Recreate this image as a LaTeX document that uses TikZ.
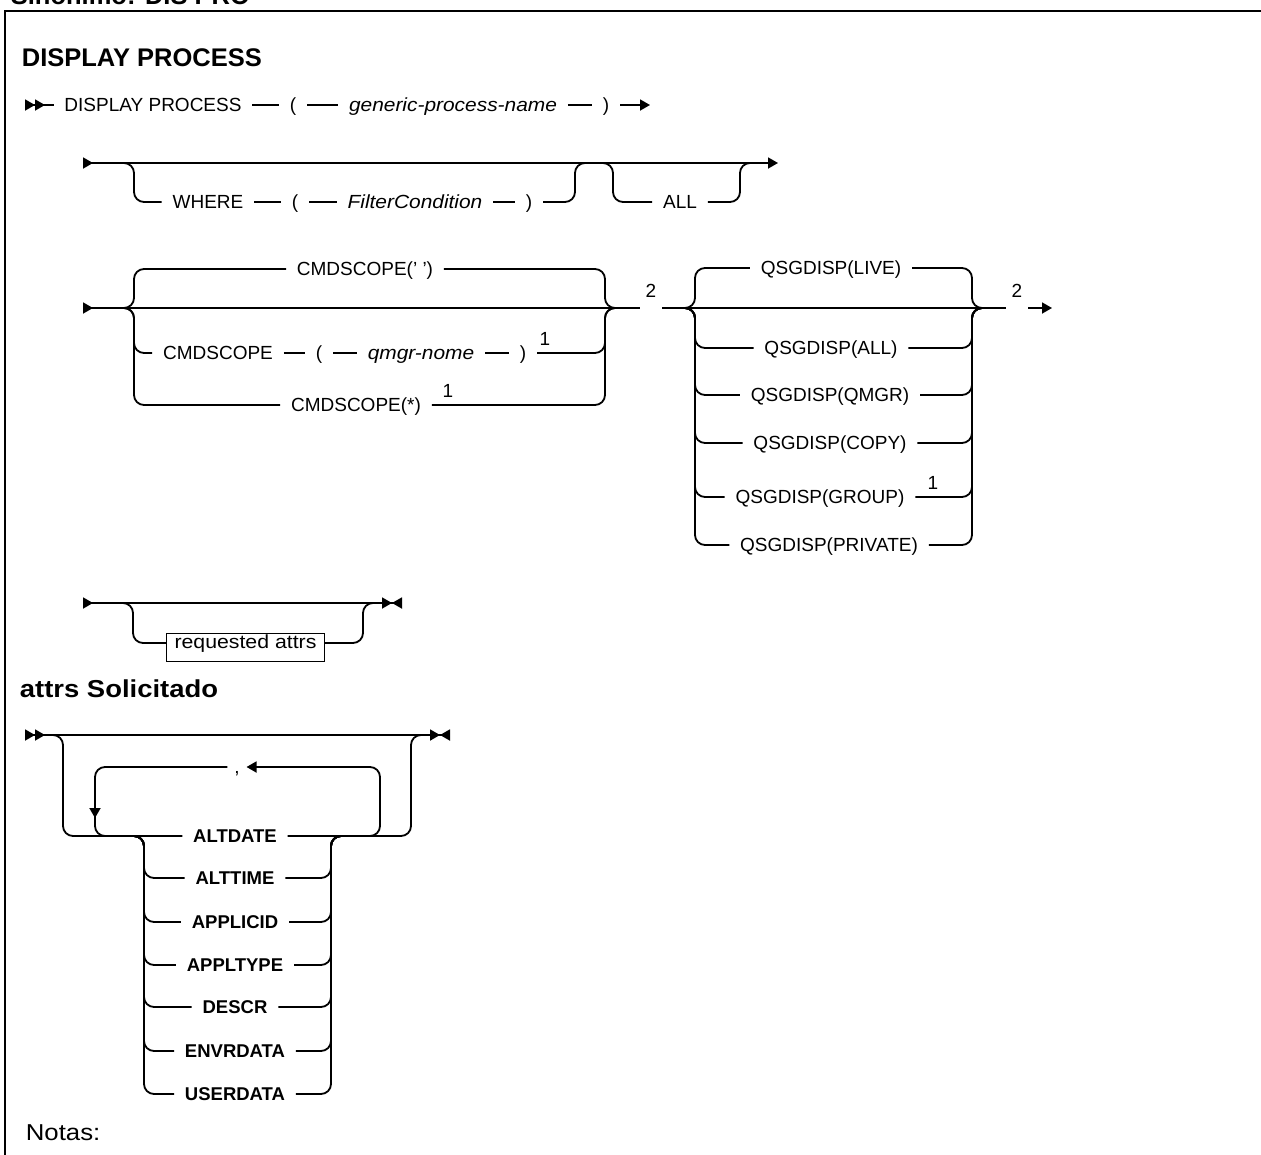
\documentclass[tikz,border=0pt]{standalone}
\usepackage{fontspec}
\setmainfont{Liberation Sans}
\newfontfamily\widefont[FakeStretch=1.12]{Liberation Sans}
\newfontfamily\argfont[FakeStretch=1.1]{Liberation Sans}
\usetikzlibrary{arrows.meta}

\tikzset{
  >={Triangle[length=10pt,width=11pt,sep=0pt]},
  heading/.style={inner sep=0pt, font=\fontsize{25.5}{25.5}\selectfont\bfseries},
  kw/.style={inner xsep=10pt, inner ysep=0pt, text height=13.6pt, text depth=0pt,
    font=\fontsize{19}{19}\selectfont},
  arg/.style={kw, font=\fontsize{19}{19}\argfont\itshape},
  attr/.style={kw, text height=13.2pt, font=\fontsize{18.5}{18.5}\selectfont\bfseries},
  supnum/.style={inner sep=0pt, font=\fontsize{19}{19}\selectfont},
  gapnum/.style={supnum, anchor=south, inner xsep=5pt, inner ysep=10pt,
    text height=13.6pt, text depth=0pt},
  attrbox/.style={draw, line width=1.5pt, anchor=base, inner xsep=8pt, inner ysep=0pt,
    text height=14.5pt, text depth=13.5pt, font=\fontsize{19}{19}\widefont},
  branch/.style={rounded corners=10pt},
}

\begin{document}
\begin{tikzpicture}[x=1pt,y=-1pt,line width=1.8pt]
\useasboundingbox (0,0) rectangle (1261,1154);
% frame and headings
\draw[line width=2.8pt] (5,1170) -- (5,11) -- (1280,11);
\node[heading, anchor=base west] (synonym) at (10,4) {Sinônimo: DIS PRO};
\node[heading, anchor=base west] (title) at (21,66) {DISPLAY PROCESS};

% DISPLAY PROCESS ( generic-process-name )
\coordinate (s1) at (25,105);
\coordinate (e1) at (650,105);
\node[kw] (dp) at (153,105) {DISPLAY PROCESS};
\node[kw] (lpa) at (293,105) {(};
\node[arg] (gpn) at (453,105) {generic-process-name};
\node[kw] (rpa) at (606,105) {)};
\draw[>>-] (s1) -- (dp);
\draw (dp) -- (lpa) -- (gpn) -- (rpa);
\draw[->] (rpa) -- (e1);

% WHERE / ALL
\coordinate (s2) at (83,163);
\coordinate (e2) at (778,163);
\draw[>->] (s2) -- (e2);
\node[kw] (where) at (208,202) {WHERE};
\node[kw] (lpb) at (295,202) {(};
\node[arg] (fc) at (415,202) {FilterCondition};
\node[kw] (rpb) at (529,202) {)};
\draw[branch] (122,163) -| (134,202) -- (where);
\draw (where) -- (lpb) -- (fc) -- (rpb);
\draw[branch] (rpb) -| (575,163) -- (587,163);
\node[kw] (all) at (680,202) {ALL};
\draw[branch] (601,163) -| (613,202) -- (all);
\draw[branch] (all) -| (740,163) -- (752,163);

% CMDSCOPE and QSGDISP
\coordinate (s3) at (83,308);
\coordinate (e3) at (1052,308);
\coordinate (cL) at (134,308);
\coordinate (cR) at (605,308);
\coordinate (qL) at (695,308);
\coordinate (qR) at (972,308);
\node[gapnum] (n2a) at (651,308) {2};
\node[gapnum] (n2b) at (1017,308) {2};
\draw[>-] (s3) -- (n2a.south west);
\draw (n2a.south east) -- (n2b.south west);
\draw[->] (n2b.south east) -- (e3);

\node[kw] (cs0) at (365,269) {CMDSCOPE(' ')};
\node[kw] (cs1) at (218,353) {CMDSCOPE};
\node[kw] (lpc) at (319,353) {(};
\node[arg] (qm) at (421,353) {qmgr-nome};
\node[kw] (rpc) at (523,353) {)};
\node[supnum] (f1a) at (545,339) {1};
\node[kw] (cs2) at (356,405) {CMDSCOPE(*)};
\node[supnum] (f1b) at (448,391) {1};
\foreach \n in {cs0,cs1,cs2}
  \draw[branch] (122,308) -| (cL |- \n) -- (\n);
\draw (cs1) -- (lpc) -- (qm) -- (rpc);
\foreach \n in {cs0,rpc,cs2}
  \draw[branch] (\n) -| (cR) -- (617,308);

\foreach \n/\x/\y/\t in {ql/831/268/LIVE, qa/831/348/ALL, qm/830/395/QMGR,
    qc/830/443/COPY, qg/820/497/GROUP, qp/829/545/PRIVATE} {
  \node[kw] (\n) at (\x,\y) {QSGDISP(\t)};
  \draw[branch] (683,308) -| (qL |- \n) -- (\n);
  \draw[branch] (\n) -| (qR) -- (984,308);
}
\node[supnum] (f1c) at (933,483) {1};

% requested attrs
\coordinate (s4) at (83,603);
\coordinate (e4) at (402,603);
\coordinate (rb) at (133,643);
\draw[>-><] (s4) -- (e4);
\node[attrbox] (req) at (245.5,648) {requested attrs};
\draw[branch] (121,603) -| (rb) -- (rb -| req.west);
\draw[branch] (rb -| req.east) -| (363,603) -- (375,603);

\node[heading, anchor=base west, font=\fontsize{24.5}{24.5}\widefont\bfseries] (attrs) at (19,697) {attrs Solicitado};

% attribute list
\coordinate (s5) at (25,735);
\coordinate (e5) at (450,735);
\draw[>>-><] (s5) -- (e5);
\node[attr] (altdate) at (235,836) {ALTDATE};
\draw[branch] (51,735) -| (63,836) -- (altdate);
\draw[branch] (altdate) -| (411,735) -- (423,735);
\node[kw, inner xsep=6pt] (sep) at (237,767) {,};
\draw[branch, ->] (368,836) -| (380,767) -- (sep);
\draw[branch, ->] (sep) -| (95,818);
\draw[branch] (95,812) |- (107,836);
\foreach \n/\y/\t in {alttime/878/ALTTIME, applicid/922/APPLICID, appltype/965/APPLTYPE,
    descr/1007/DESCR, envrdata/1051/ENVRDATA, userdata/1094/USERDATA} {
  \node[attr] (\n) at (235,\y) {\t};
  \draw[branch] (132,836) -| (144,\y) -- (\n);
  \draw[branch] (\n) -| (331,836) -- (343,836);
}

\node[anchor=west, inner sep=0pt, font=\fontsize{23}{23}\widefont] (notes) at (25,1133) {Notas:};
\end{tikzpicture}
\end{document}
